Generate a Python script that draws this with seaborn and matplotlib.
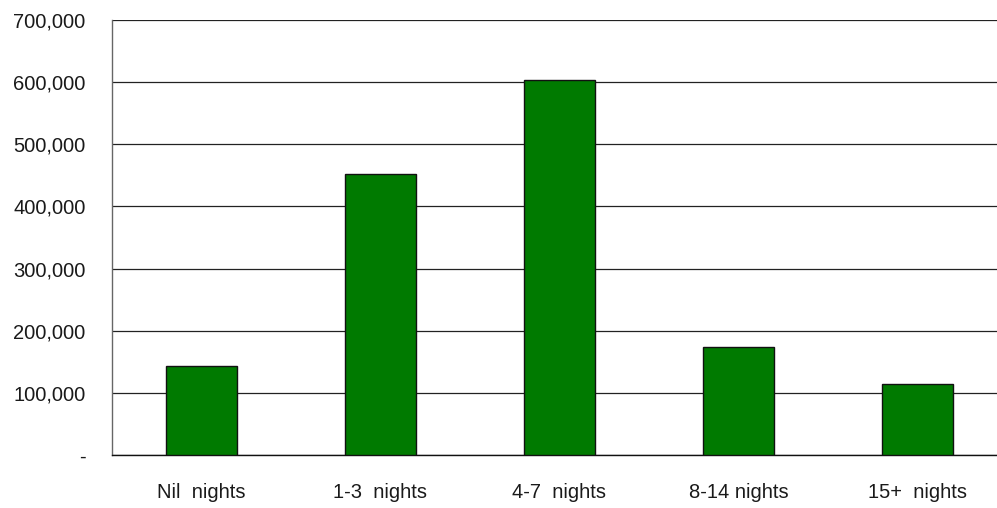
import matplotlib
matplotlib.use("Agg")
import matplotlib.pyplot as plt
import matplotlib.ticker as mticker
import seaborn as sns
import pandas as pd

# Length of stay categories and visitor counts
categories = ["Nil  nights", "1-3  nights", "4-7  nights", "8-14 nights", "15+  nights"]
visitors = [143000, 452000, 603500, 174000, 114000]
y_ticks = [0, 100000, 200000, 300000, 400000, 500000, 600000, 700000]

df = pd.DataFrame({"stay": categories, "visitors": visitors})

sns.set_theme(style="white")
plt.rcParams["font.family"] = ["Liberation Sans", "DejaVu Sans"]

fig = plt.figure(figsize=(9.97, 5.08), dpi=100)
ax = fig.add_axes([112 / 997, 53 / 508, 894.8 / 997, 435 / 508])

sns.barplot(data=df, x="stay", y="visitors", color="#007a00", saturation=1,
            width=0.40, edgecolor="#111111", linewidth=1.0, ax=ax, zorder=3)

ax.set_ylim(0, 700000)
ax.set_xlim(-0.5, len(categories) - 0.5)
ax.set_yticks(y_ticks)
ax.yaxis.set_major_formatter(
    mticker.FuncFormatter(lambda v, _: "-" if v == 0 else f"{int(v):,}"))
ax.yaxis.grid(True, color="#222222", linewidth=0.9)
ax.set_axisbelow(True)

for side in ["top", "right"]:
    ax.spines[side].set_visible(False)
ax.spines["left"].set_color("#666666")
ax.spines["left"].set_linewidth(1.0)
ax.spines["bottom"].set_color("#111111")
ax.spines["bottom"].set_linewidth(1.0)

ax.tick_params(axis="y", length=0, pad=19, labelsize=14.5, labelcolor="#1a1a1a")
ax.tick_params(axis="x", length=0, pad=20, labelsize=14.5, labelcolor="#1a1a1a")
ax.set_xlabel("")
ax.set_ylabel("")

fig.savefig("out.png", dpi=100)
